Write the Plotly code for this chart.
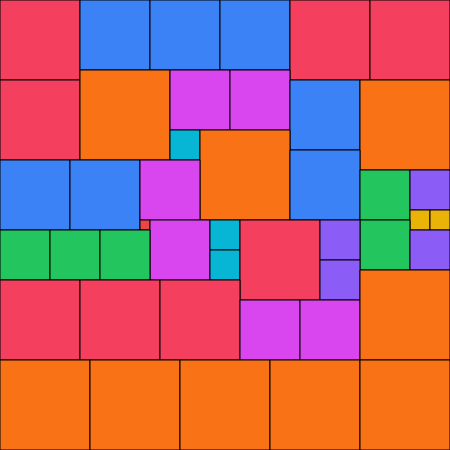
import plotly.graph_objects as go

# Tile mosaic data: left, top, width, height (in chart units) and colour group
left   = [0, 80, 150, 220, 290, 370,
          0, 80, 170, 230, 290, 360,
          170, 200, 290,
          0, 70, 140, 140,
          360, 410, 410, 430, 360, 410,
          150, 210, 210, 240, 320, 320,
          0, 50, 100,
          0, 80, 160, 240, 300, 360,
          0, 90, 180, 270, 360]
top    = [0, 0, 0, 0, 0, 0,
          80, 70, 70, 70, 80, 80,
          130, 130, 150,
          160, 160, 160, 220,
          170, 170, 210, 210, 220, 230,
          220, 220, 250, 220, 220, 260,
          230, 230, 230,
          280, 280, 280, 300, 300, 270,
          360, 360, 360, 360, 360]
width  = [80, 70, 70, 70, 80, 80,
          80, 90, 60, 60, 70, 90,
          30, 90, 70,
          70, 70, 60, 10,
          50, 40, 20, 20, 50, 40,
          60, 30, 30, 80, 40, 40,
          50, 50, 50,
          80, 80, 80, 60, 60, 90,
          90, 90, 90, 90, 90]
height = [80, 70, 70, 70, 80, 80,
          80, 90, 60, 60, 70, 90,
          30, 90, 70,
          70, 70, 60, 10,
          50, 40, 20, 20, 50, 40,
          60, 30, 30, 80, 40, 40,
          50, 50, 50,
          80, 80, 80, 60, 60, 90,
          90, 90, 90, 90, 90]
group  = ["R", "B", "B", "B", "R", "R",
          "R", "O", "M", "M", "B", "O",
          "C", "O", "B",
          "B", "B", "M", "R2",
          "G", "P", "A", "A", "G", "P",
          "M", "C", "C", "R", "P", "P",
          "G", "G", "G",
          "R", "R", "R", "M", "M", "O",
          "O", "O", "O", "O", "O"]

palette = {"R": "#f43f5e", "R2": "#ef4444", "B": "#3b82f6", "O": "#f97316",
           "M": "#d946ef", "C": "#06b6d4", "G": "#22c55e", "P": "#8b5cf6",
           "A": "#eab308"}

fig = go.Figure(go.Bar(
    x=[l + w / 2 for l, w in zip(left, width)],
    width=width,
    base=top,
    y=height,
    marker=dict(color=[palette[g] for g in group],
                line=dict(color="#000000", width=1)),
    hoverinfo="skip",
))

fig.update_layout(
    width=450, height=450,
    margin=dict(l=0, r=0, t=0, b=0),
    paper_bgcolor="#ffffff", plot_bgcolor="#ffffff",
    showlegend=False, barmode="overlay",
    xaxis=dict(range=[0, 450], visible=False, fixedrange=True),
    yaxis=dict(range=[450, 0], visible=False, fixedrange=True),
)

fig.write_html("out.html", config={"displayModeBar": False},
               post_script="document.body.style.margin='0';document.body.style.overflow='hidden';")
